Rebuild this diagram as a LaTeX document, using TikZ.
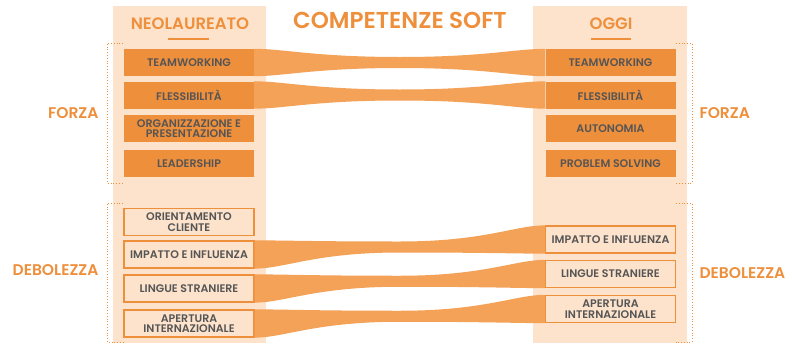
\documentclass[tikz,border=0pt]{standalone}
\usepackage{fontspec}
\setmainfont{Poppins}[BoldFont={Poppins SemiBold}]
\usetikzlibrary{positioning,calc}
\definecolor{arancio}{HTML}{EE8F3C}
\definecolor{crema}{HTML}{FDE3CC}
\definecolor{nastro}{HTML}{F3A257}
\definecolor{grigio}{HTML}{555555}
\tikzset{
  x=1pt, y=-1pt,
  colonna/.style = {fill=crema, draw=none},
  forte/.style = {fill=arancio, text=grigio, inner sep=0pt, align=center,
   minimum width=130pt, minimum height=27pt,
   font=\fontsize{11}{10.5}\selectfont\bfseries},
  debole/.style = {forte, fill=crema, draw=arancio, line width=1.3pt},
  testa/.style = {text=arancio, font=\fontsize{16.5}{16.5}\selectfont\bfseries},
  lato/.style = {text=arancio, font=\fontsize{15.5}{15.5}\selectfont\bfseries},
  punti/.style = {arancio, line width=0.8pt, dash pattern=on 0.8pt off 2pt},
}
\newcommand\nastro[2]{%
  \fill[nastro] (#1.north east) .. controls +(30,0) and +(-85,0) .. ($(#1.east)!.5!(#2.west)+(0,-5.5)$)
    .. controls +(85,0) and +(-30,0) .. (#2.north west) -- (#2.south west)
    .. controls +(-30,0) and +(85,0) .. ($(#1.east)!.5!(#2.west)+(0,5.5)$)
    .. controls +(-85,0) and +(30,0) .. (#1.south east) -- cycle;}

\begin{document}
\begin{tikzpicture}
  \useasboundingbox (0,0) rectangle (793,343);
  \fill[colonna] (113,6) rectangle (266,343);
  \fill[colonna] (533,6) rectangle (687,343);

  % titoli
  \node (T) [text=arancio, font=\fontsize{23}{23}\selectfont\bfseries] at (400,20) {COMPETENZE SOFT};
  \node (NL) [testa] at (190,24) {NEOLAUREATO};
  \node (OG) [testa] at (611,24) {OGGI};
  \draw[arancio, line width=2pt] (168,39) -- (209,39);
  \draw[arancio, line width=2pt] (591,39) -- (631,39);

  % neolaureato
  \node (N1) [forte] at (189,62.5) {TEAMWORKING};
  \node (N2) [forte] at (189,95) {FLESSIBILITÀ};
  \node (N3) [forte] at (189,128.5) {ORGANIZZAZIONE E\\PRESENTAZIONE};
  \node (N4) [forte] at (189,163.5) {LEADERSHIP};
  \node (N5) [debole] at (189,222) {ORIENTAMENTO\\CLIENTE};
  \node (N6) [debole] at (189,254.5) {IMPATTO E INFLUENZA};
  \node (N7) [debole] at (189,288.5) {LINGUE STRANIERE};
  \node (N8) [debole] at (189,323.5) {APERTURA\\INTERNAZIONALE};

  % oggi
  \node (O1) [forte] at (610.5,62.5) {TEAMWORKING};
  \node (O2) [forte] at (610.5,95) {FLESSIBILITÀ};
  \node (O3) [forte] at (610.5,128.5) {AUTONOMIA};
  \node (O4) [forte] at (610.5,163.5) {PROBLEM SOLVING};
  \node (O5) [debole] at (610.5,239.5) {IMPATTO E INFLUENZA};
  \node (O6) [debole] at (610.5,274) {LINGUE STRANIERE};
  \node (O7) [debole] at (610.5,309) {APERTURA\\INTERNAZIONALE};

  \nastro{N1}{O1}
  \nastro{N2}{O2}
  \nastro{N6}{O5}
  \nastro{N7}{O6}
  \nastro{N8}{O7}

  % parentesi
  \draw[punti] (123,43) -| (107,183) -- (123,183);
  \draw[punti] (123,203) -| (107,342) -- (123,342);
  \draw[punti] (676,43) -| (692,183) -- (676,183);
  \draw[punti] (676,203) -| (692,342) -- (676,342);
  \node (FL) [lato, anchor=east] at (102,113) {FORZA};
  \node (DL) [lato, anchor=east] at (102,270) {DEBOLEZZA};
  \node (FR) [lato, anchor=west] at (696,113) {FORZA};
  \node (DR) [lato, anchor=west] at (696,273) {DEBOLEZZA};
\end{tikzpicture}
\end{document}
